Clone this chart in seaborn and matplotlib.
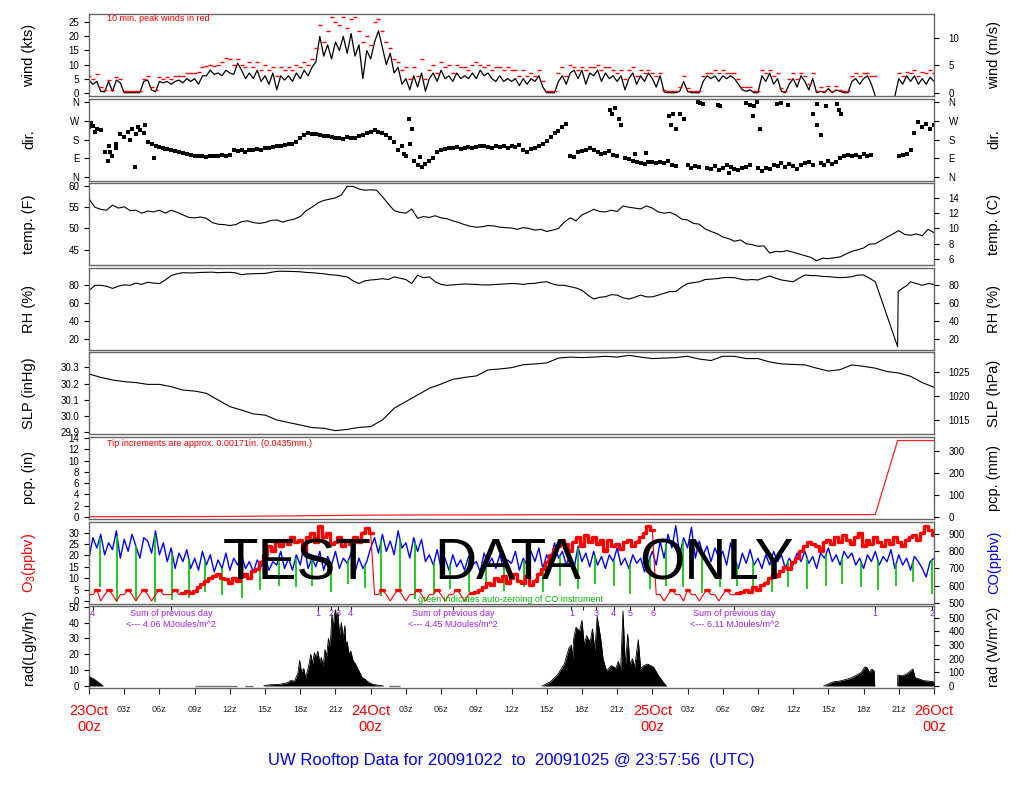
import numpy as np
import matplotlib
matplotlib.use("Agg")
import matplotlib.pyplot as plt
import seaborn as sns

sns.set_style("ticks")
plt.rcParams['font.family'] = ['Liberation Sans', 'DejaVu Sans']
plt.rcParams['mathtext.fontset'] = 'custom'
plt.rcParams['mathtext.rm'] = 'Liberation Sans'
plt.rcParams['mathtext.it'] = 'Liberation Sans'

# ---------------- data (hours since 23 Oct 00z) ----------------
t20 = np.arange(217) / 3.0   # 20-minute samples, 0..72 h

wind_kts = [
    4.5, 3, 4,   0.5, 0.3, 4,   0.5, 4.5, 3.5,   0, 0, 0,   0, 0, 4,        # h0-4
    4.5, 1, 0.3,   4, 3.5, 4,   3, 4, 4.5,   3.5, 5, 4,   5, 3, 6,          # h5-9
    6, 8, 6.5,   7, 6, 8,   7, 6.5, 10.5,   8, 5, 7,   5, 8, 4,             # h10-14
    6, 3, 7,   1, 6, 4.5,   6, 4, 7,   5, 8, 6,   9, 11, 20,                # h15-19
    13, 17, 12,   18, 15, 20,   14, 21, 13,   17, 5, 15,   12, 18, 22,      # h20-24
    16, 10, 14,   7, 9, 3,   5, 1, 6,   2, 7, 0.5,   5, 7, 4,               # h25-29
    8, 5, 6,   4, 7, 5,   6, 5, 7,   5, 8, 6,   7, 5, 4,                    # h30-34
    6, 4, 5,   4, 5, 2.5,   5, 3, 5,   4, 6, 2,   0, 0, 0,                  # h35-39
    4, 6, 3,   7, 8, 5,   8, 3, 7,   6, 8, 4,   7, 5, 6,                    # h40-44
    4, 6, 1,   5, 7, 3,   6, 4, 7,   5, 2, 6,   0.3, 0, 0,                  # h45-49
    0, 0.5, 4,   0.5, 0, 0,   0, 4, 6,   5, 6, 4,   6, 5, 6,                # h50-54
    5, 3, 1,   0.5, 1, 0,   0, 6, 4,   7, 3, 5,   0.5, 0, 3,                # h55-59
    5, 2, 6,   4, 1, 5,   0, 0.5, 0,   1.5, 0, 1,   0.5, 0, 0,              # h60-64
    4, 5, 3,   5, 6, 3,   -1.2, np.nan, np.nan,   np.nan, np.nan, -1.2,     # h65-68
    5, 3, 6,   4, 6, 3,   5, 3, 5.5,   4,                                   # h69-72
]

wind_peak = [
    6, 5, 6.5,   2, 1, 4.5,   1, 5.5, 5,   0.7, 0.7, 0.7,   0.7, 0.7, 5,    # h0-4
    6, 2, 1,   5.5, 5, 5.5,   5, 6, 6,   6, 7, 7,   7, 7.5, 9,              # h5-9
    9.5, 10, 9.5,   10, 11, 12.5,   12, 10, 12,   10, 9, 11,   9, 11, 8,    # h10-14
    10, 8, 9,   6, 9, 8,   9, 8, 10,   9, 11, 10,   12, 16, 24,             # h15-19
    18, 22, 27,   25, 24, 27,   23, 26, 27,   22, 18, 20,   17, 25, 26,     # h20-24
    22, 18, 16,   12, 11, 8,   9, 5, 9,   6, 12, 5,   8, 10, 7,             # h25-29
    11, 9, 10,   7, 10, 9,   9, 8, 10,   11, 10, 9,   10, 8, 9,             # h30-34
    9, 8, 9,   8, 8, 6,   8, 6, 7,   6, 8, 4,   0.7, 0.7, 0.7,              # h35-39
    7, 9, 6,   10, 9, 8,   9, 8, 9,   9, 10, 8,   9, 9, 8,                  # h40-44
    7, 8, 5,   8, 9, 6,   8, 7, 8,   7, 6, 7,   1, 0.7, 0.7,                # h45-49
    0.7, 2, 6,   1.5, 0.7, 0.7,   0.7, 6, 7,   7, 8, 7,   8, 7, 7,          # h50-54
    7, 5, 2,   2, 2, 0.7,   0.7, 8, 7,   8, 6, 7,   1.5, 0.7, 5,            # h55-59
    7, 5, 7,   6, 3, 7,   0.7, 2, 0.7,   2.5, 0.7, 2.5,   1, 0.7, 0.7,      # h60-64
    6, 7, 6,   7, 7, 6,   6, np.nan, np.nan,   np.nan, np.nan, np.nan,      # h65-68
    7, 6, 7.5,   7, 8, 6,   7.5, 7, 8,   7,                                 # h69-72
]

wind_dir = [
    240, 245, 230,   225, 120, 150,   100, 140, 205,   190, 215, 230,   205, 225, 210,
    170, 160, 150,   145, 140, 135,   130, 125, 120,   118, 110, 105,   102, 100, 100,
    98, 100, 102,   100, 104, 102,   108, 128, 125,   130, 122, 130,   128, 135, 132,
    138, 140, 145,   150, 148, 155,   160, 158, 170,   185, 200, 210,   208, 205, 200,
    198, 195, 190,   185, 188, 182,   190, 185, 188,   195, 200, 210,   215, 225, 218,
    210, 200, 185,   170, 130, 150,   100, 160, 80,   60, 50, 65,   80, 90, 120,
    130, 135, 140,   138, 142, 135,   140, 145, 138,   142, 148, 150,   145, 140, 150,
    145, 148, 140,   150, 145, 152,   130, 120, 135,   140, 150, 160,   175, 190, 210,
    220, 240, 255,   100, 95, 120,   125, 130, 140,   130, 120, 110,   115, 125, 105,
    100, 250, 90,   85, 80, 75,   70, 65, 75,   72, 68, 75,   70, 78, 60,
    55, 300, 280,   60, 45, 55,   50, 350, 45,   40, 55, 35,   45, 60, 50,
    40, 35, 45,   50, 60, 340,   45, 30, 45,   40, 60, 55,   70, 50, 65,
    55, 40, 60,   70, 75, 60,   350, 70, 60,   80, 65, 75,   90, 100, 105,
    100, 105, 95,   110, 100, 105,   np.nan, np.nan, np.nan,   np.nan, np.nan, np.nan,
    100, 105, 110,   130, 210, 265,   240, 255, 230,   250,
]

dir_extra_t = [0.2, 0.5, 1.6, 1.8, 2.3, 3.5, 3.9, 4.2, 4.8, 5.5,
               6.5, 26.8, 27.3, 27.5, 28.2, 44.4, 44.6, 44.8, 45.2, 49.4,
               49.6, 49.8, 50.0, 51.9, 52.1, 53.6, 53.8, 56.0, 56.3, 56.6,
               56.9, 57.2, 58.6, 59.0, 59.6, 61.7, 62.0, 62.4, 62.8, 63.7,
               63.9, 64.1, 47.5, 46.5, 54.5]
dir_extra = [260, 215, 80, 120, 160, 180, 50, 240, 250, 90,
             135, 110, 280, 230, 95, 320, 300, 330, 280, 290,
             250, 300, 230, 360, 355, 345, 340, 355, 345, 290,
             360, 230, 350, 355, 345, 300, 250, 200, 340, 350,
             320, 300, 115, 110, 20]

temp_t = list(np.arange(0, 67.5, 0.5)) + [69, 69.5, 70, 70.5, 71, 71.5, 72]
temp_f = [
    57.0, 55.0, 54.5, 54.3, 55.5, 54.8, 55.1, 54.2, 54.3, 53.6,   # h0-4.5
    54.1, 53.9, 54.3, 53.6, 54.3, 53.8, 53.2, 52.6, 52.5, 52.7,   # h5-9.5
    52.4, 51.4, 51.0, 50.9, 50.7, 50.9, 51.6, 51.8, 51.4, 51.2,   # h10-14.5
    51.4, 51.9, 52.0, 51.5, 51.9, 52.2, 52.8, 54.2, 55.0, 56.0,   # h15-19.5
    56.6, 56.9, 57.2, 57.9, 59.9, 59.9, 59.3, 59.0, 59.1, 59.0,   # h20-24.5
    57.5, 55.8, 54.2, 53.8, 53.6, 54.6, 52.4, 52.8, 52.6, 53.0,   # h25-29.5
    52.5, 52.3, 51.8, 51.4, 50.9, 50.5, 50.3, 50.4, 50.7, 50.6,   # h30-34.5
    50.3, 50.2, 50.1, 49.8, 50.2, 50.0, 49.6, 49.8, 49.3, 49.6,   # h35-39.5
    50.0, 51.5, 52.5, 51.8, 53.2, 53.8, 54.5, 54.0, 53.9, 54.3,   # h40-44.5
    54.0, 55.3, 55.0, 54.8, 54.6, 55.3, 54.8, 53.9, 53.6, 53.8,   # h45-49.5
    53.2, 52.2, 52.0, 51.2, 51.0, 49.9, 49.3, 48.8, 48.0, 47.6,   # h50-54.5
    47.0, 47.3, 46.4, 46.2, 45.8, 45.9, 44.2, 44.6, 44.5, 44.8,   # h55-59.5
    44.4, 44.0, 43.6, 43.2, 42.4, 43.0, 42.9, 43.1, 43.3, 44.0,   # h60-64.5
    44.6, 45.0, 45.4, 46.3, 46.4,                                 # h65-67
    49.5, 48.6, 48.4, 48.7, 48.3, 49.8, 49.0,                     # h69-72
]

rh_t = list(np.arange(0, 67.5, 0.5)) + [68.9, 68.95, 69.3, 69.7, 70, 70.5, 71, 71.5, 72]
rh = [
    74, 80, 80, 79, 76.5, 79, 80.5, 80, 82.5, 81,
    83.5, 82.5, 82, 86, 91, 93, 94.2, 94, 94, 94.5,
    94.6, 94.8, 94.2, 94.5, 94.6, 94, 92, 92.8, 93, 93.3,
    93.4, 94.5, 95.7, 95.8, 95.7, 95.5, 95.2, 94.5, 94.2, 93.5,
    93, 92, 91.5, 90.5, 89.5, 85, 82, 85, 86, 86.5,
    87.5, 86.5, 89.5, 88, 86.5, 82, 91.5, 88.5, 89.5, 84,
    81, 80, 80.5, 81, 81.5, 81.3, 81, 80.5, 80.4, 80.8,
    81.2, 81.5, 82, 81.8, 81, 82, 82.2, 83.5, 84, 81.5,
    80, 80, 78.5, 77, 74.5, 69, 64.6, 66.5, 67.2, 69.5,
    69, 66, 64.6, 66.5, 69, 67, 67, 69, 71, 73,
    73, 78, 82, 83, 84, 86.5, 87, 87.5, 88.6, 88.8,
    88.6, 87, 86, 86.5, 86, 88.5, 90.5, 88, 86, 85,
    84, 88, 91.6, 91, 90.9, 90, 89.7, 89.2, 88.6, 89,
    89.7, 91.5, 91.6, 88, 84,
    11, 72.9, 76.6, 80, 84, 82, 80, 82, 81,
]

slp_t = list(range(73))
slp_inhg = [
    30.259, 30.238, 30.222, 30.212, 30.206, 30.195, 30.195, 30.181, 30.160, 30.154,
    30.140, 30.099, 30.058, 30.037, 30.013, 30.006, 29.976, 29.960, 29.945, 29.929,
    29.925, 29.910, 29.918, 29.930, 29.935, 29.976, 30.048, 30.089, 30.130, 30.171,
    30.197, 30.226, 30.238, 30.247, 30.284, 30.290, 30.298, 30.316, 30.321, 30.327,
    30.357, 30.363, 30.360, 30.363, 30.368, 30.363, 30.374, 30.363, 30.354, 30.357,
    30.360, 30.368, 30.351, 30.342, 30.368, 30.368, 30.354, 30.354, 30.333, 30.321,
    30.318, 30.315, 30.295, 30.277, 30.286, 30.315, 30.306, 30.295, 30.274, 30.265,
    30.245, 30.206, 30.177,
]

pcp_t = [0, 5, 10, 15, 20, 24, 30, 40, 50, 60, 67, 68.9, 72]
pcp_in = [0, 0.01, 0.03, 0.1, 0.2, 0.28, 0.32, 0.35, 0.36, 0.37, 0.38, 13.6, 13.6]

o3 = [
    2.8, 2.8, 5,   0, 2.8, 5,   2.8, 0, 2.8,   2.8, 5, 2.8,   0, 2.8, 5,     # h0-4
    2.8, 0, 2.8,   5, 2.8, 2.8,   2.8, 5, 2.8,   3.5, 4.5, 3.5,   4.5, 6, 7.5,
    9, 10, 11,   12, 10, 9.5,   8, 10, 9,   11, 12, 10,   13, 14, 17,          # h10-14
    20, 24, 22,   26, 24, 27,   25, 28, 26,   27, 22, 28,   30, 26, 33,
    28, 30, 25,   26, 28, 24,   27, 25, 28,   26, 30, 32,   30, 2.8, 2.8,     # h20-24
    5, 2.8, 0,   2.8, 5, 2.8,   0, 2.8, 2.8,   5, 2.8, 0,   2.8, 2.8, 5,
    2.8, 0, 2.8,   2.8, 5, 2.8,   0, 2.8, 3.5,   4, 5, 6,   8, 7, 10,         # h30-34
    9, 11, 8,   10, 12, 9,   8, 11, 7,   9, 12, 14,   17, 20, 23,
    24, 27, 25,   22, 26, 28,   24, 29, 26,   28, 25, 27,   22, 27, 24,       # h40-44
    25, 23, 26,   27, 24, 26,   28, 30, 33,   31, 2.8, 2.8,   0, 2.8, 5,
    2.8, 2.8, 0,   5, 2.8, 2.8,   0, 2.8, 5,   2.8, 2.8, 0,   2.8, 5, 2.8,    # h50-54
    2.8, 3.5, 4,   5, 4, 6,   5, 7, 8,   10, 12, 11,   13, 15, 14,
    17, 19, 22,   24, 26, 25,   24, 22, 26,   27, 25, 28,   26, 29, 27,       # h60-64
    25, 28, 30,   24, 27, 25,   28, 26, 24,   27, 25, 28,   26, 24, 27,
    28, 29, 27,   30, 33, 31,   29,                                           # h70-72
]

co = [
    760, 880, 820,   900, 780, 850,   810, 920, 760,   870, 800, 900,   830, 760, 880,
    860, 790, 920,   780, 850, 740,   820, 700, 790,   740, 810, 700,   760, 690, 800,
    720, 780, 680,   750, 700, 790,   690, 760, 720,   780, 700, 740,   680, 750, 710,
    770, 690, 740,   720, 800, 700,   760, 690, 780,   720, 840, 700,   760, 710, 800,
    690, 770, 720,   800, 700, 760,   730, 790, 680,   760, 700, 740,   820, 880, 790,
    900, 800, 860,   780, 920, 820,   850, 760, 880,   800, 870, 740,   780, 720, 810,
    700, 760, 690,   780, 710, 750,   690, 770, 720,   740, 680, 790,   720, 760, 700,
    780, 700, 750,   730, 800, 690,   760, 720, 800,   740, 820, 700,   780, 730, 850,
    760, 800, 720,   780, 700, 830,   740, 790, 710,   800, 720, 770,   700, 780, 740,
    820, 720, 760,   700, 780, 730,   760, 680, 740,   800, 720, 860,   760, 900, 820,
    950, 780, 880,   820, 940, 760,   860, 780, 830,   740, 820, 760,   800, 720, 850,
    760, 700, 790,   730, 810, 720,   760, 700, 780,   720, 800, 740,   780, 700, 760,
    720, 790, 740,   800, 730, 770,   700, 790, 760,   820, 740, 780,   720, 800, 760,
    790, 720, 760,   700, 780, 740,   800, 720, 770,   740, 810, 700,   780, 720, 760,
    690, 770, 740,   700, 650, 740,   760,
]

green_t = [0.9, 2.4, 4.0, 5.6, 7.1, 8.5, 9.9, 11.3,
           13.0, 14.6, 16.2, 17.6, 19.0, 20.6, 22.1, 23.5,
           24.9, 26.5, 27.8, 29.4, 30.8, 32.4, 33.8, 35.4,
           37.1, 38.7, 40.1, 41.7, 43.1, 44.7, 46.1, 47.8,
           49.2, 50.6, 52.2, 53.8, 55.2, 56.6, 58.2, 59.6,
           61.2, 62.8, 64.2, 65.8, 67.2, 68.8, 70.2, 71.8]
green_min = [590, 505, 510, 505, 515, 530, 560, 545,
             530, 575, 600, 590, 600, 560, 610, 585,
             540, 560, 520, 550, 580, 560, 600, 570,
             590, 560, 600, 580, 610, 600, 550, 580,
             600, 590, 555, 590, 600, 570, 560, 590,
             580, 600, 610, 590, 575, 600, 620, 550]

# solar radiation (Lgly/hr), one list per sunlit stretch
rad1_t = [0, 0.4, 0.95, 1.2]
rad1 = [5.9, 4.5, 1.5, 0]
rad2_t = [14.9, 15.5, 16.2, 16.9, 17.2, 17.5, 17.8, 17.95, 18.1, 18.3,
          18.45, 18.7, 18.9, 19.05, 19.2, 19.35, 19.5, 19.65, 19.8, 19.95,
          20.1, 20.25, 20.4, 20.55, 20.7, 20.8, 20.9, 21.0, 21.1, 21.2,
          21.35, 21.5, 21.65, 21.8, 21.9, 22.0, 22.15, 22.3, 22.5, 22.7,
          22.9, 23.1, 23.3, 23.5, 23.7, 23.9, 24.2, 24.6, 25.1]
rad2 = [0.3, 0.8, 1, 2, 3.5, 3, 8, 16, 9, 11,
        5, 12, 20, 14, 21, 18, 22, 15, 18, 12,
        23, 19, 30, 25, 45, 36, 44, 48, 42, 46,
        32, 40, 30, 38, 25, 28, 20, 22, 16, 14,
        11, 8, 5, 4.5, 3, 2, 1, 0.5, 0]
rad3_t = [38.6, 39.3, 39.9, 40.5, 40.9, 41.1, 41.2, 41.3, 41.5, 41.8,
          42.0, 42.2, 42.4, 42.7, 42.9, 43.1, 43.3, 43.6, 43.8, 44.1,
          44.5, 44.9, 45.1, 45.3, 45.5, 45.7, 45.9, 46.1, 46.3, 46.5,
          46.8, 47.0, 47.3, 47.6, 48.1, 48.5, 49.0, 49.2]
rad3 = [0, 2.6, 6.9, 13.8, 24, 25.8, 17, 30, 37, 34.4,
        41.3, 25.8, 31.8, 27.5, 36, 22.4, 43.9, 30, 17.2, 9.5,
        12.9, 11.2, 15.5, 10.3, 47.3, 12, 32.7, 12.9, 17.2, 12,
        29.2, 11.2, 12.9, 13.8, 12, 6.9, 1.7, 0]
rad4_t = [62.6, 63.4, 63.9, 64.8, 65.3, 65.8, 66.1, 66.3, 66.5, 66.7, 66.9, 66.95]
rad4 = [0, 2.6, 3.0, 4.7, 6.4, 8.6, 12, 11.6, 8.6, 10.7, 9.5, 0]
rad5_t = [68.9, 68.92, 69.3, 69.7, 70.2, 70.4, 70.8, 71.1, 71.6, 72]
rad5 = [0, 6.9, 6.4, 7.7, 10.7, 5.2, 4.3, 3.4, 3.0, 2.6]
rad_zero_start = [9.0, 13.3, 25.6]
rad_zero_end = [12.6, 14.0, 26.5]

mark_t = [0.3, 19.5, 20.6, 21.2, 22.3, 41.1, 42.1, 43.2, 44.7, 46.1, 48.1, 67.0, 71.8]
mark_lbl = ['4', '1', '2', '3', '4', '1', '', '3', '4', '5', '6', '1', '2']
sum_t = [7.0, 31.0, 55.0]
sum_mj = ['4.06', '4.45', '6.11']

day_t = [0, 24, 48, 72]
day_lbl = ['23Oct', '24Oct', '25Oct', '26Oct']

# ---------------- layout ----------------
W, H = 1024.0, 800.0
fig = plt.figure(figsize=(W / 100, H / 100), dpi=100)
x0, xw = 89 / W, 845 / W
panel_top = [14, 98.6, 183.2, 267.8, 352.4, 437, 521.6, 606.2]
ph = 82
axs = [fig.add_axes([x0, 1 - (t + ph) / H, xw, ph / H]) for t in panel_top]

FRAME = '#666666'
TICK = dict(labelsize=7, length=3.5, width=0.8, colors='black')


def base(ax, ylim, ticks, labels=None):
    ax.set_xlim(0, 72)
    ax.set_ylim(*ylim)
    ax.set_yticks(ticks)
    if labels is not None:
        ax.set_yticklabels(labels)
    ax.tick_params(axis='y', pad=3.5, **TICK)
    ax.tick_params(axis='x', bottom=False, labelbottom=False)
    for s in ax.spines.values():
        s.set_color(FRAME)
        s.set_linewidth(1.0)
    ax.set_xlabel('')
    ax.set_ylabel('')


def right(ax, ylim, ticks, labels=None):
    tw = ax.twinx()
    tw.set_ylim(*ylim)
    tw.set_yticks(ticks)
    if labels is not None:
        tw.set_yticklabels(labels)
    tw.tick_params(axis='y', pad=7, **TICK)
    for s in tw.spines.values():
        s.set_visible(False)
    return tw


def side_labels(i, left_txt, right_txt, lc='black', rc='black'):
    yc = 1 - (panel_top[i] + ph / 2) / H
    fig.text(29 / W, yc, left_txt, rotation=90, ha='center', va='center', fontsize=10.5, color=lc)
    fig.text(994 / W, yc, right_txt, rotation=90, ha='center', va='center', fontsize=10.5, color=rc)


# wind
ax = axs[0]
ax.plot(t20, wind_kts, color='black', lw=0.9)
ax.plot(t20, wind_peak, ls='none', marker='_', ms=3, mew=1.0, color='red')
kt = (-1.17, 27.95)
base(ax, kt, [0, 5, 10, 15, 20, 25])
right(ax, (kt[0] * 0.514444, kt[1] * 0.514444), [0, 5, 10])
ax.text(1.5, 26.3, '10 min. peak winds in red', color='red', fontsize=6.5, va='center')
side_labels(0, 'wind (kts)', 'wind (m/s)')

# direction
ax = axs[1]
sns.scatterplot(x=t20, y=wind_dir, ax=ax, color='black', marker='s', s=6, linewidth=0)
sns.scatterplot(x=dir_extra_t, y=dir_extra, ax=ax, color='black', marker='s', s=6, linewidth=0)
compass = ['N', 'E', 'S', 'W', 'N']
base(ax, (-15.7, 374.8), [0, 90, 180, 270, 360], compass)
right(ax, (-15.7, 374.8), [0, 90, 180, 270, 360], compass)
side_labels(1, 'dir.', 'dir.')

# temperature
ax = axs[2]
sns.lineplot(x=temp_t, y=temp_f, ax=ax, color='black', linewidth=0.8, sort=False, estimator=None)
tf = (41.35, 60.66)
base(ax, tf, [45, 50, 55, 60])
right(ax, ((tf[0] - 32) * 5 / 9, (tf[1] - 32) * 5 / 9), [6, 8, 10, 12, 14])
side_labels(2, 'temp. (F)', 'temp. (C)')

# relative humidity
ax = axs[3]
sns.lineplot(x=rh_t, y=rh, ax=ax, color='black', linewidth=0.8, sort=False, estimator=None)
base(ax, (7.5, 99.7), [20, 40, 60, 80])
right(ax, (7.5, 99.7), [20, 40, 60, 80])
side_labels(3, 'RH (%)', 'RH (%)')

# sea level pressure
ax = axs[4]
sns.lineplot(x=slp_t, y=slp_inhg, ax=ax, color='black', linewidth=0.8, sort=False, estimator=None)
sp = (29.887, 30.392)
base(ax, sp, [29.9, 30.0, 30.1, 30.2, 30.3], ['29.9', '30.0', '30.1', '30.2', '30.3'])
right(ax, (sp[0] * 33.8639, sp[1] * 33.8639), [1015, 1020, 1025])
side_labels(4, 'SLP (inHg)', 'SLP (hPa)')

# precipitation
ax = axs[5]
sns.lineplot(x=pcp_t, y=pcp_in, ax=ax, color='#ff2020', linewidth=0.9, sort=False, estimator=None)
pc = (-0.41, 14.23)
base(ax, pc, list(range(0, 15, 2)))
right(ax, (pc[0] * 25.4, pc[1] * 25.4), [0, 100, 200, 300])
ax.text(1.5, 13.0, 'Tip increments are approx. 0.00171in. (0.0435mm.)', color='red', fontsize=6.5, va='center')
side_labels(5, 'pcp. (in)', 'pcp. (mm)')

# ozone / CO
ax = axs[6]
o3_arr = np.array(o3, dtype=float)
o3_day = np.where(o3_arr > 3.2, o3_arr, np.nan)
ax.plot(t20, o3_arr, color='red', lw=0.8, zorder=3)
ax.plot(t20, o3_day, color='red', lw=2.4, drawstyle='steps-mid', zorder=4)
o3lim = (-1.14, 34.87)
base(ax, o3lim, [0, 5, 10, 15, 20, 25, 30])
tw = right(ax, (494.7, 974), [500, 600, 700, 800, 900])
tw.plot(t20, co, color='blue', lw=1.0)
co_at = np.interp(green_t, t20, co)
tw.vlines(green_t, green_min, co_at, color='#00c000', lw=1.2)
tw.set_zorder(ax.get_zorder() - 1)
ax.patch.set_visible(False)
tw.patch.set_visible(True)
tw.patch.set_facecolor('white')
ax.text(28.0, 0.8, 'green indicates auto-zeroing of CO instrument', color='#00bb00', fontsize=6.5, va='center')
side_labels(6, 'O$_3$(ppbv)', 'CO(ppbv)', lc='red', rc='blue')

# radiation
ax = axs[7]
for tt, vv in [(rad1_t, rad1), (rad2_t, rad2), (rad3_t, rad3), (rad4_t, rad4), (rad5_t, rad5)]:
    ax.fill_between(tt, 0, vv, color='black', lw=0, zorder=3)
    ax.plot(tt, vv, color='black', lw=0.6, zorder=3)
ax.hlines([0] * len(rad_zero_start), rad_zero_start, rad_zero_end, color='#777777', lw=1.0, zorder=2)
rl = (-1.39, 50.3)
base(ax, rl, [0, 10, 20, 30, 40, 50])
right(ax, (rl[0] * 11.63, rl[1] * 11.63), [0, 100, 200, 300, 400, 500])
purple = '#a020f0'
for tm, lb in zip(mark_t, mark_lbl):
    ax.text(tm, 45.4, lb, color=purple, fontsize=6.5, ha='center', va='center', zorder=1)
for tm, mj in zip(sum_t, sum_mj):
    ax.text(tm, 45.4, 'Sum of previous day', color=purple, fontsize=6.5, ha='center', va='center', zorder=1)
    ax.text(tm, 38.6, '<--- ' + mj + ' MJoules/m^2', color=purple, fontsize=6.5, ha='center', va='center', zorder=1)
top = ax.secondary_xaxis('top')
top.set_xticks(mark_t + sum_t)
top.tick_params(direction='in', length=3, width=0.8, labeltop=False)
top.spines['top'].set_visible(False)
hours = list(range(0, 73, 3))
ax.set_xticks(hours)
ax.set_xticklabels(['' if h % 24 == 0 else '%02dz' % (h % 24) for h in hours])
ax.tick_params(axis='x', bottom=True, labelbottom=True, labelsize=6.5, length=4, width=0.8,
               pad=8, direction='out')
side_labels(7, 'rad(Lgly/hr)', 'rad (W/m^2)')

for tm, lb in zip(day_t, day_lbl):
    fig.text((89 + tm * 845 / 72) / W, 1 - 719 / H, lb + '\n00z', color='red', fontsize=10.5,
             ha='center', va='center', linespacing=1.15)

fig.text(511 / W, 1 - 761 / H, 'UW Rooftop Data for 20091022  to  20091025 @ 23:57:56  (UTC)',
         color='blue', fontsize=12, ha='center', va='center')

# watermark
for word, xc in [('TEST', 297), ('DATA', 508), ('ONLY', 716)]:
    fig.text(xc / W, 1 - 564 / H, word, fontsize=42, color='black', ha='center', va='center',
             family=['Liberation Sans Narrow', 'Liberation Sans'], zorder=20)

fig.savefig('out.png', dpi=100)
